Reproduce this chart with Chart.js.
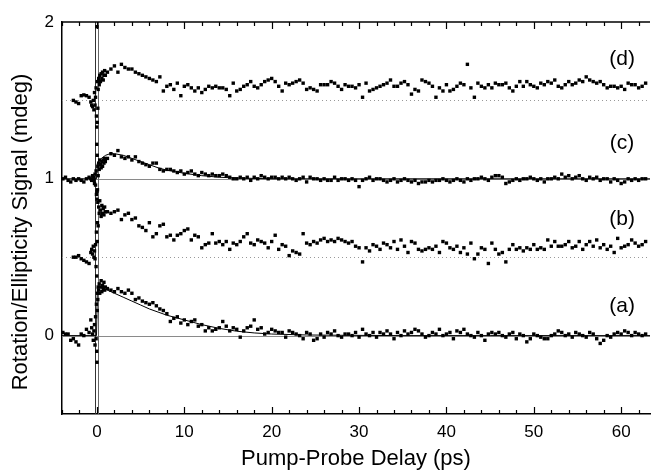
<!DOCTYPE html>
<html>
<head>
<meta charset="utf-8">
<script src="https://cdn.jsdelivr.net/npm/chart.js@4"></script>
<style>
  html, body { margin: 0; padding: 0; background: #fff; }
  #chart { display: block; }
</style>
</head>
<body>
<canvas id="chart" width="654" height="472"></canvas>
<script>
// delays (ps) around time zero, shared by the four traces
const delayEarly = [-3.9, -3.6, -3.3, -3.0, -2.7, -2.4, -2.1, -1.8, -1.5, -1.2,
  -0.9, -0.7, -0.6, -0.5, -0.42, -0.35, -0.28, -0.22, -0.16, -0.1,
  -0.06, -0.03, 0, 0.03, 0.06, 0.1, 0.14, 0.2, 0.26, 0.32,
  0.4, 0.48, 0.56, 0.64, 0.72, 0.8, 0.88, 0.96];

const aEarly = [0.02, 0.01, 0.01, -0.03, -0.02, -0.04, -0.06, 0.01, 0.00, 0.04,
  0.02, 0.10, 0.05, 0.01, -0.03, 0.03, 0.07, -0.06, 0.12, -0.02,
  0.20, -0.10, -0.17, 0.16, 0.27, 0.23, 0.31, 0.29, 0.33, 0.27,
  0.31, 0.35, 0.28, 0.32, 0.30, 0.34, 0.29, 0.31];
const bEarly = [null, null, null, null, 0.50, 0.50, 0.51, 0.49, 0.48, 0.47,
  0.46, 0.53, 0.55, 0.52, 0.57, 0.50, 0.54, 0.49, 0.58, 0.44,
  0.66, 0.38, 0.92, 0.60, 0.72, 0.85, 0.70, 0.82, 0.78, 0.86,
  0.80, 0.76, 0.83, 0.78, 0.81, 0.77, 0.82, 0.79];
const cEarly = [1.00, 1.01, 0.99, 0.98, 1.00, 0.99, 1.00, 0.99, 0.98, 1.00,
  1.01, 1.00, 0.99, 1.02, 1.01, 0.99, 0.97, 1.03, 0.96, 1.05,
  0.90, 1.22, 0.87, 1.15, 0.93, 1.08, 1.02, 1.10, 1.06, 1.12,
  1.09, 1.07, 1.11, 1.08, 1.12, 1.10, 1.13, 1.11];
const dEarly = [null, null, null, null, 1.50, 1.49, 1.48, 1.53, 1.535, 1.53,
  1.52, 1.49, 1.47, 1.46, 1.50, 1.44, 1.55, 1.47, 1.52, 1.58,
  1.40, 1.33, 1.97, 1.36, 1.62, 1.45, 1.57, 1.64, 1.60, 1.66,
  1.62, 1.67, 1.64, 1.68, 1.63, 1.66, 1.69, 1.66];

// delays (ps) of the long tail
const delayTail = [1.2, 1.6, 2, 2.4, 2.8, 3.2, 3.6, 4, 4.4, 4.8,
  5.2, 5.6, 6, 6.4, 6.8, 7.2, 7.6, 8, 8.4, 8.8,
  9.2, 9.6, 10, 10.4, 10.8, 11.2, 11.6, 12, 12.4, 12.8,
  13.2, 13.6, 14, 14.4, 14.8, 15.2, 15.6, 16, 16.4, 16.8,
  17.2, 17.6, 18, 18.4, 18.8, 19.2, 19.6, 20, 20.4, 20.8,
  21.2, 21.6, 22, 22.4, 22.8, 23.2, 23.6, 24, 24.4, 24.8,
  25.2, 25.6, 26, 26.4, 26.8, 27.2, 27.6, 28, 28.4, 28.8,
  29.2, 29.6, 30, 30.4, 30.8, 31.2, 31.6, 32, 32.4, 32.8,
  33.2, 33.6, 34, 34.4, 34.8, 35.2, 35.6, 36, 36.4, 36.8,
  37.2, 37.6, 38, 38.4, 38.8, 39.2, 39.6, 40, 40.4, 40.8,
  41.2, 41.6, 42, 42.4, 42.8, 43.2, 43.6, 44, 44.4, 44.8,
  45.2, 45.6, 46, 46.4, 46.8, 47.2, 47.6, 48, 48.4, 48.8,
  49.2, 49.6, 50, 50.4, 50.8, 51.2, 51.6, 52, 52.4, 52.8,
  53.2, 53.6, 54, 54.4, 54.8, 55.2, 55.6, 56, 56.4, 56.8,
  57.2, 57.6, 58, 58.4, 58.8, 59.2, 59.6, 60, 60.4, 60.8,
  61.2, 61.6, 62, 62.4, 62.8];

const aTail = [0.30, 0.29, 0.28, 0.30, 0.28, 0.27, 0.29, 0.27, 0.23, 0.24,
  0.22, 0.21, 0.20, 0.21, 0.19, 0.17, 0.16, 0.14, 0.09, 0.11,
  0.12, 0.08, 0.10, 0.07, 0.09, 0.10, 0.06, 0.07, 0.03, 0.05,
  0.03, 0.04, 0.05, 0.09, 0.06, 0.03, 0.05, 0.04, -0.01, 0.03,
  0.05, 0.06, 0.10, 0.04, 0.05, 0.01, 0.02, 0.04, 0.03, 0.02,
  0.02, -0.01, 0.03, 0.02, 0.01, 0.00, -0.02, 0.02, 0.01, -0.03,
  -0.02, 0.01, -0.01, 0.02, 0.01, 0.03, 0.00, -0.01, 0.01, 0.01,
  0.00, 0.02, -0.01, 0.04, 0.01, 0.00, 0.02, -0.01, 0.02, 0.01,
  0.03, 0.01, -0.02, 0.02, 0.00, 0.03, 0.01, 0.02, 0.04, 0.03,
  0.01, -0.01, 0.00, 0.02, 0.01, 0.04, 0.00, 0.01, 0.02, -0.02,
  0.03, 0.02, 0.04, 0.01, 0.00, -0.01, 0.02, 0.00, -0.03, 0.01,
  0.02, 0.01, 0.02, 0.00, -0.01, 0.01, 0.02, -0.02, 0.01, 0.00,
  -0.04, -0.02, 0.01, 0.00, -0.01, -0.02, -0.02, 0.00, 0.01, 0.03,
  0.02, 0.00, 0.01, -0.01, 0.02, 0.01, 0.00, -0.01, 0.02, 0.01,
  -0.02, -0.05, -0.03, 0.00, -0.01, 0.01, 0.02, 0.01, 0.03, 0.02,
  0.00, 0.02, 0.01, 0.00, 0.01];

const bTail = [0.79, 0.78, 0.79, 0.80, 0.74, 0.77, 0.78, 0.74, 0.75, 0.70,
  0.69, 0.67, 0.72, 0.63, 0.65, 0.70, 0.71, 0.63, 0.64, 0.61,
  0.64, 0.65, 0.67, 0.68, 0.61, 0.64, 0.63, 0.56, 0.58, 0.59,
  0.65, 0.59, 0.60, 0.58, 0.60, 0.55, 0.59, 0.58, 0.60, 0.63,
  0.65, 0.59, 0.58, 0.61, 0.60, 0.59, 0.56, 0.60, 0.64, 0.55,
  0.58, 0.57, 0.51, 0.54, 0.53, 0.52, 0.65, 0.59, 0.58, 0.60,
  0.59, 0.61, 0.62, 0.60, 0.61, 0.60, 0.62, 0.61, 0.60, 0.59,
  0.60, 0.57, 0.56, 0.47, 0.56, 0.54, 0.58, 0.57, 0.55, 0.59,
  0.58, 0.56, 0.60, 0.55, 0.61, 0.57, 0.53, 0.60, 0.59, 0.55,
  0.54, 0.55, 0.56, 0.55, 0.57, 0.53, 0.60, 0.59, 0.56, 0.55,
  0.57, 0.53, 0.56, 0.52, 0.59, 0.49, 0.52, 0.56, 0.55, 0.46,
  0.59, 0.55, 0.52, 0.53, 0.47, 0.55, 0.58, 0.55, 0.56, 0.54,
  0.56, 0.55, 0.58, 0.55, 0.56, 0.55, 0.61, 0.57, 0.60, 0.57,
  0.57, 0.58, 0.60, 0.56, 0.57, 0.60, 0.55, 0.58, 0.60, 0.57,
  0.61, 0.56, 0.58, 0.55, 0.57, 0.53, 0.62, 0.56, 0.57, 0.58,
  0.61, 0.59, 0.57, 0.58, 0.60];

const cTail = [1.13, 1.16, 1.15, 1.18, 1.14, 1.13, 1.14, 1.12, 1.14, 1.11,
  1.10, 1.09, 1.08, 1.10, 1.10, 1.06, 1.05, 1.06, 1.06, 1.05,
  1.04, 1.05, 1.03, 1.04, 1.05, 1.03, 1.02, 1.04, 1.03, 1.02,
  1.03, 1.02, 1.02, 1.03, 1.02, 1.01, 1.00, 1.00, 1.01, 1.00,
  1.01, 0.99, 1.01, 1.00, 1.02, 1.01, 1.00, 1.01, 1.01, 1.00,
  1.01, 1.00, 1.01, 1.00, 0.99, 1.00, 1.01, 0.98, 1.01, 1.00,
  1.00, 0.99, 1.00, 0.99, 0.99, 1.01, 0.99, 1.00, 1.00, 0.99,
  1.00, 0.99, 0.95, 0.99, 1.00, 1.01, 0.99, 1.00, 1.00, 0.99,
  0.98, 0.99, 1.00, 0.98, 0.99, 1.00, 0.99, 0.98, 0.99, 0.97,
  0.98, 0.98, 0.99, 0.98, 0.99, 0.99, 1.00, 0.99, 0.98, 0.99,
  1.00, 0.99, 0.98, 1.00, 0.99, 1.00, 1.00, 1.01, 1.00, 0.99,
  1.01, 1.02, 1.02, 1.01, 0.97, 0.98, 0.99, 1.00, 0.99, 1.00,
  1.00, 1.01, 1.00, 0.99, 1.00, 0.98, 1.00, 1.00, 1.01, 1.00,
  1.03, 1.01, 1.02, 1.00, 1.01, 1.02, 1.00, 0.99, 1.01, 1.00,
  1.01, 0.99, 1.00, 1.00, 0.98, 1.00, 0.99, 0.97, 0.98, 1.00,
  0.99, 1.00, 0.99, 1.00, 1.00];

const dTail = [1.68, 1.70, 1.72, 1.68, 1.73, 1.71, 1.70, 1.70, 1.68, 1.67,
  1.66, 1.65, 1.64, 1.63, 1.62, 1.65, 1.56, 1.59, 1.60, 1.57,
  1.61, 1.53, 1.59, 1.60, 1.58, 1.56, 1.58, 1.55, 1.57, 1.59,
  1.58, 1.59, 1.58, 1.58, 1.57, 1.53, 1.61, 1.56, 1.57, 1.59,
  1.60, 1.62, 1.59, 1.58, 1.60, 1.62, 1.63, 1.64, 1.62, 1.59,
  1.56, 1.61, 1.60, 1.61, 1.62, 1.63, 1.61, 1.57, 1.58, 1.57,
  1.56, 1.60, 1.60, 1.60, 1.62, 1.61, 1.59, 1.57, 1.60, 1.59,
  1.59, 1.58, 1.60, 1.52, 1.61, 1.56, 1.57, 1.58, 1.59, 1.60,
  1.61, 1.63, 1.59, 1.59, 1.61, 1.62, 1.60, 1.54, 1.57, 1.56,
  1.63, 1.62, 1.61, 1.59, 1.52, 1.58, 1.56, 1.60, 1.56, 1.57,
  1.59, 1.61, 1.60, 1.73, 1.58, 1.52, 1.61, 1.59, 1.58, 1.60,
  1.58, 1.61, 1.60, 1.60, 1.61, 1.58, 1.56, 1.59, 1.62, 1.59,
  1.62, 1.60, 1.59, 1.58, 1.61, 1.60, 1.62, 1.61, 1.63, 1.59,
  1.58, 1.60, 1.62, 1.60, 1.61, 1.63, 1.62, 1.65, 1.63, 1.62,
  1.61, 1.62, 1.60, 1.58, 1.59, 1.59, 1.58, 1.59, 1.57, 1.61,
  1.60, 1.60, 1.58, 1.59, 1.61];

// fitted curves for (a) and (c)
const fitAx = [-4, -0.05, 0.05, 0.5, 1, 2, 3, 4, 5, 6, 7, 8, 10, 12, 14, 16, 18, 20, 24, 28, 35, 45, 63.3];
const fitAy = [0, 0, 0.31, 0.305, 0.295, 0.27, 0.245, 0.22, 0.195, 0.17, 0.15, 0.13, 0.10, 0.07, 0.046, 0.028, 0.017, 0.01, 0.004, 0.002, 0, 0, 0];
const fitCx = [-4, -0.05, 0.05, 0.5, 1, 1.5, 2, 3, 4, 5, 6, 7, 8, 9, 10, 12, 14, 16, 20, 63.3];
const fitCy = [1, 1, 1.10, 1.13, 1.15, 1.16, 1.16, 1.15, 1.13, 1.11, 1.09, 1.07, 1.055, 1.045, 1.035, 1.02, 1.01, 1.005, 1, 1];

// offsets of the traces (solid = a, c ; dotted = b, d)
const baseLevels = [0, 0.5, 1, 1.5];
const baseDotted = [false, true, false, true];

const xTicks = [0, 10, 20, 30, 40, 50, 60];
const yTicks = [0, 1, 2];
const panelNames = ['(a)', '(b)', '(c)', '(d)'];

const FONT = "'Liberation Sans', Arial, Helvetica, sans-serif";

function zip(xs, ys) {
  const out = [];
  xs.forEach((x, i) => {
    if (ys[i] !== null) out.push({ x: x, y: ys[i] });
  });
  return out;
}

function trace(early, tail) {
  return zip(delayEarly, early).concat(zip(delayTail, tail));
}

function dots(data) {
  return {
    data: data,
    showLine: false,
    pointStyle: 'rect',
    pointRadius: 2.4,
    pointBorderWidth: 0,
    pointBackgroundColor: '#000',
    order: 0
  };
}

function fit(xs, ys) {
  return {
    data: zip(xs, ys),
    showLine: true,
    borderColor: '#000',
    borderWidth: 1,
    pointRadius: 0,
    tension: 0,
    order: 1
  };
}

const framePlugin = {
  id: 'frame',
  beforeDatasetsDraw(chart) {
    const { ctx, chartArea: a, scales: { x, y } } = chart;
    ctx.save();
    ctx.lineWidth = 1;
    baseLevels.forEach((v, i) => {
      const py = Math.round(y.getPixelForValue(v)) + 0.5;
      ctx.strokeStyle = baseDotted[i] ? '#999' : '#8a8a8a';
      ctx.setLineDash(baseDotted[i] ? [1, 3] : []);
      ctx.beginPath();
      ctx.moveTo(a.left, py);
      ctx.lineTo(a.right, py);
      ctx.stroke();
    });
    ctx.setLineDash([]);
    // double vertical line at time zero
    const x0 = x.getPixelForValue(0);
    ctx.strokeStyle = '#333';
    ctx.beginPath();
    ctx.moveTo(Math.round(x0 - 1.5) + 0.5, a.top);
    ctx.lineTo(Math.round(x0 - 1.5) + 0.5, a.bottom);
    ctx.stroke();
    ctx.strokeStyle = '#666';
    ctx.beginPath();
    ctx.moveTo(Math.round(x0 + 1) + 0.5, a.top);
    ctx.lineTo(Math.round(x0 + 1) + 0.5, a.bottom);
    ctx.stroke();
    ctx.restore();
  },
  afterDraw(chart) {
    const { ctx, chartArea: a, scales: { x, y } } = chart;
    ctx.save();
    ctx.strokeStyle = '#000';
    ctx.lineWidth = 1.5;
    ctx.beginPath();
    ctx.moveTo(a.left, a.top);
    ctx.lineTo(a.right, a.top);
    ctx.stroke();

    // inward tick marks on bottom and top
    ctx.lineWidth = 1.2;
    for (let v = -4; v <= 62; v += 2) {
      const px = Math.round(x.getPixelForValue(v)) + 0.5;
      const len = v % 10 === 0 ? 7 : 4;
      ctx.beginPath();
      ctx.moveTo(px, a.bottom);
      ctx.lineTo(px, a.bottom - len);
      ctx.moveTo(px, a.top);
      ctx.lineTo(px, a.top + len);
      ctx.stroke();
    }

    // y axis title
    ctx.fillStyle = '#000';
    ctx.font = '22px ' + FONT;
    ctx.textAlign = 'center';
    ctx.textBaseline = 'middle';
    ctx.save();
    ctx.translate(21, 232);
    ctx.rotate(-Math.PI / 2);
    ctx.fillText('Rotation/Ellipticity Signal (mdeg)', 0, 0);
    ctx.restore();

    // trace labels
    ctx.font = '21px ' + FONT;
    const labelY = [0.19, 0.745, 1.23, 1.76];
    panelNames.forEach((t, i) => {
      ctx.fillText(t, x.getPixelForValue(60.1), y.getPixelForValue(labelY[i]));
    });
    ctx.restore();
  }
};

const ctx = document.getElementById('chart');

new Chart(ctx, {
  type: 'scatter',
  data: {
    datasets: [
      dots(trace(aEarly, aTail)),
      dots(trace(bEarly, bTail)),
      dots(trace(cEarly, cTail)),
      dots(trace(dEarly, dTail)),
      fit(fitAx, fitAy),
      fit(fitCx, fitCy)
    ]
  },
  options: {
    responsive: false,
    animation: false,
    devicePixelRatio: 1,
    events: [],
    layout: { padding: { top: 22, right: 0, left: 0, bottom: 0 } },
    plugins: {
      legend: { display: false },
      tooltip: { enabled: false }
    },
    scales: {
      x: {
        type: 'linear',
        position: 'bottom',
        min: -4,
        max: 63.3,
        grid: { display: false, drawTicks: false },
        border: { display: true, color: '#000', width: 1.5 },
        afterBuildTicks: s => { s.ticks = xTicks.map(v => ({ value: v })); },
        afterFit: s => { s.height = 58; },
        ticks: {
          color: '#000',
          font: { family: FONT, size: 17 },
          padding: 8,
          maxRotation: 0
        },
        title: {
          display: true,
          text: 'Pump-Probe Delay (ps)',
          color: '#000',
          font: { family: FONT, size: 22 },
          padding: { top: 0, bottom: 0 }
        }
      },
      y: {
        type: 'linear',
        min: -0.5,
        max: 2,
        grid: { display: false, drawTicks: false },
        border: { display: true, color: '#000', width: 1.5 },
        afterBuildTicks: s => { s.ticks = yTicks.map(v => ({ value: v })); },
        afterFit: s => { s.width = 62; },
        ticks: {
          color: '#000',
          font: { family: FONT, size: 17 },
          padding: 8
        }
      }
    }
  },
  plugins: [framePlugin]
});
</script>
</body>
</html>
